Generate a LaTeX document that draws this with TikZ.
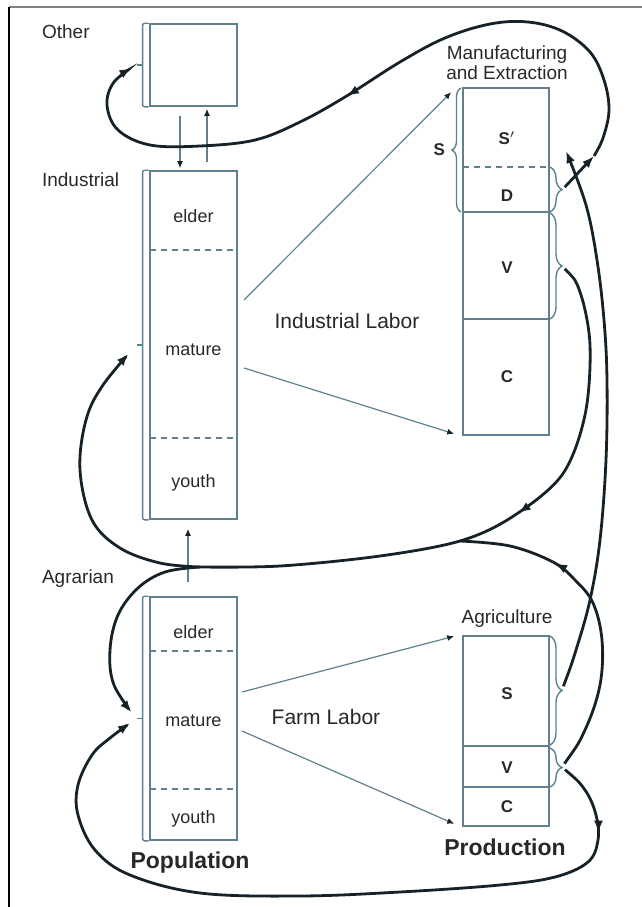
\documentclass[tikz,border=0pt]{standalone}
\usepackage{fontspec}
\setmainfont{Liberation Sans}
\usetikzlibrary{arrows.meta,decorations.pathreplacing,decorations.markings}

\definecolor{slate}{RGB}{96,128,142}
\definecolor{ink}{RGB}{22,34,40}
\definecolor{txt}{RGB}{40,40,40}

\tikzset{
  box/.style={draw=slate, line width=0.8pt, minimum width=43.5pt, inner sep=0pt},
  sep/.style={draw=slate, line width=0.8pt},
  dsep/.style={sep, dash pattern=on 3pt off 2.5pt},
  brk/.style={draw=slate, line width=0.7pt, rounded corners=1pt},
  brc/.style={draw=slate, line width=0.7pt, decorate, decoration={brace, amplitude=#1}},
  labor/.style={draw=slate, line width=0.6pt, -{Latex[length=3.5pt,width=3pt,color=ink]}},
  flow/.style={draw=ink, line width=1.4pt, -{Latex[length=6pt,width=4.5pt]}},
  midarrow/.style={postaction={decorate}, decoration={markings,
      mark=at position #1 with {\arrow{Latex[length=6pt,width=4.5pt]}}}},
  region/.style={font=\fontsize{9.5}{10}\selectfont, text=txt, anchor=west},
  cohort/.style={font=\fontsize{9}{10}\selectfont, text=txt},
  part/.style={font=\fontsize{8.5}{10}\selectfont\bfseries, text=txt},
  title/.style={font=\fontsize{11.5}{13}\selectfont\bfseries, text=txt},
  laborlabel/.style={font=\fontsize{10.5}{12}\selectfont, text=txt},
}

\begin{document}
\begin{tikzpicture}[x=0.5pt, y=-0.5pt]
  \useasboundingbox (0,0) rectangle (642,907);
  \draw[gray, line width=1pt] (9,7) -- (642,7);
  \draw[black, line width=0.6pt] (9,7) -- (9,907);

  % population boxes
  \node[box, minimum height=41pt] (oth) at (193.5,65) {};
  \node[box, minimum height=174pt] (ind) at (193.5,345) {};
  \node[box, minimum height=121.5pt] (agr) at (193.5,718.5) {};
  \draw[dsep] (150,250) -- (237,250);
  \draw[dsep] (150,438) -- (237,438);
  \draw[dsep] (150,651) -- (237,651);
  \draw[dsep] (150,789) -- (237,789);
  \foreach \b in {oth,ind,agr} {
    \draw[brk] ([xshift=-0.3pt]\b.north west) -- ++(-3pt,0) |- ([xshift=-0.3pt]\b.south west);
    \draw[brk] ([xshift=-3.3pt]\b.west) -- ++(-3pt,0);
  }
  \coordinate (othnub) at ([xshift=-6.3pt]oth.west);
  \coordinate (indnub) at ([xshift=-6.3pt]ind.west);
  \coordinate (agrnub) at ([xshift=-6.3pt]agr.west);
  \node[cohort] (ielder) at (193.5,216) {elder};
  \node[cohort] (imature) at (193.5,350) {mature};
  \node[cohort] (iyouth) at (193.5,483) {youth};
  \node[cohort] (aelder) at (193.5,632) {elder};
  \node[cohort] (amature) at (193.5,721) {mature};
  \node[cohort] (ayouth) at (193.5,819) {youth};

  \node[region] (othlabel) at (35,32) {Other};
  \node[region] (indlabel) at (35,180) {Industrial};
  \node[region] (agrlabel) at (35,579) {Agrarian};
  \node[title] (poplabel) at (190,863) {Population};

  % production boxes
  \node[box, minimum width=43pt, minimum height=173.5pt] (man) at (506,261.5) {};
  \draw[dsep] (463,167) -- (549,167);
  \draw[sep] (463,212) -- (549,212);
  \draw[sep] (463,319) -- (549,319);
  \node[part] (msp) at (507,138) {S$'$};
  \node[part] (md) at (507,196) {D};
  \node[part] (mv) at (507,268) {V};
  \node[part] (mc) at (507,377) {C};
  \node[region, anchor=center, align=center] (manlabel) at (507,63) {Manufacturing\\and Extraction};

  \node[box, minimum width=43pt, minimum height=95pt] (agc) at (506,731) {};
  \draw[sep] (463,746) -- (549,746);
  \draw[sep] (463,787) -- (549,787);
  \node[part] (as) at (507,694) {S};
  \node[part] (av) at (507,768) {V};
  \node[part] (ac) at (507,807) {C};
  \node[region, anchor=center] (agclabel) at (507,619) {Agriculture};
  \node[title] (prodlabel) at (505,847) {Production};

  % braces
  \draw[brc=4.5pt] (461,212) -- (461,88);
  \draw[brc=6pt] (550,167) -- (550,212);
  \draw[brc=6pt] (550,213) -- (550,319);
  \draw[brc=6pt] (550,636) -- (550,745);
  \draw[brc=6pt] (550,748) -- (550,787);
  \coordinate (snub) at (452,150);
  \coordinate (dnub) at (562,190);
  \coordinate (mvnub) at (562,266);
  \coordinate (asnub) at (562,690);
  \coordinate (avnub) at (562,767);
  \node[part, anchor=east] (slabel) at (snub) {S};

  % labor
  \coordinate (il1) at (244,300);
  \coordinate (il2) at (244,368);
  \coordinate (fl1) at (242,692);
  \coordinate (fl2) at (242,731);
  \draw[labor] (il1) -- ([xshift=-5.5pt,yshift=-2.5pt]man.north west);
  \draw[labor] (il2) -- ([xshift=-4pt,yshift=1pt]man.south west);
  \draw[labor] (fl1) -- ([xshift=-4pt,yshift=-0.5pt]agc.north west);
  \draw[labor] (fl2) -- ([xshift=-4pt,yshift=1.5pt]agc.south west);
  \node[laborlabel] (indlabor) at (347,321) {Industrial Labor};
  \node[laborlabel] (farmlabor) at (326,717) {Farm Labor};

  % migration
  \draw[labor] ([xshift=-6.75pt,yshift=-4.5pt]oth.south) -- ([xshift=-6.75pt,yshift=1pt]ind.north);
  \draw[labor] ([xshift=6.75pt,yshift=4pt]ind.north) -- ([xshift=6.75pt,yshift=-1pt]oth.south);
  \draw[labor] ([xshift=-2.75pt,yshift=7pt]agr.north) -- ([xshift=-2.75pt,yshift=-4.5pt]ind.south);

  % flows
  \coordinate (j1) at (594,156);
  \coordinate (spin) at (566,151);
  \coordinate (m1) at (460,541);
  \coordinate (j2) at (200,567);
  \draw[flow, shorten <=2pt] (dnub) -- (j1);
  \draw[flow, midarrow=0.54, shorten >=3pt] plot[smooth, tension=0.6] coordinates {(j1) (603,138) (609,110) (604,80) (590,52) (562,31) (528,22) (490,24) (445,38) (400,62) (345,97) (300,122) (255,140) (200,146) (150,145) (118,130) (107,105) (114,82) (othnub)};
  \draw[flow, shorten <=2pt] plot[smooth, tension=0.6] coordinates {(asnub) (576,650) (590,600) (600,540) (606,460) (607,380) (604,320) (597,260) (586,205) (spin)};
  \draw[draw=ink, line width=1.4pt, midarrow=0.7, shorten <=2pt] plot[smooth, tension=0.6] coordinates {(avnub) (585,730) (600,685) (602,640) (593,603) (575,580) (553,562) (510,546) (m1)};
  \draw[draw=ink, line width=1.4pt, midarrow=0.46, shorten <=2pt] plot[smooth, tension=0.55] coordinates {(mvnub) (580,292) (590,345) (585,415) (562,475) (512,517) (m1) (380,556) (280,566) (j2)};
  \draw[flow, shorten >=6pt] plot[smooth, tension=0.6] coordinates {(j2) (160,563) (120,548) (92,520) (80,470) (86,420) (103,385) (indnub)};
  \draw[flow, shorten >=4pt] plot[smooth, tension=0.6] coordinates {(j2) (165,572) (138,588) (118,615) (110,650) (114,685) (agrnub)};
  \draw[flow, midarrow=0.1, shorten <=2pt, shorten >=4pt] plot[smooth, tension=0.6] coordinates {(avnub) (585,790) (596,815) (598,840) (588,862) (555,877) (500,885) (400,892) (300,896) (200,893) (130,875) (95,850) (78,815) (78,785) (92,755) (110,738) (agrnub)};
\end{tikzpicture}
\end{document}
